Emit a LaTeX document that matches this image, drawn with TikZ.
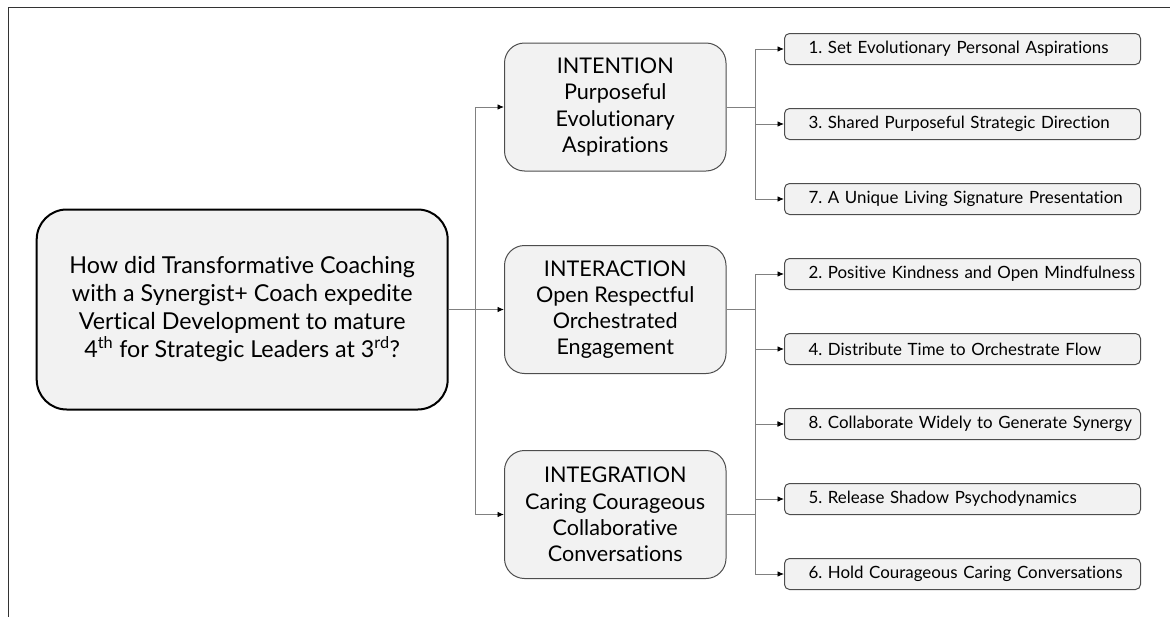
\documentclass[tikz,border=0pt]{standalone}
\usepackage{fontspec}
\setmainfont{Lato}[Ligatures=NoCommon]
\usetikzlibrary{arrows.meta}
\definecolor{boxfill}{HTML}{F2F2F2}
\definecolor{bordergray}{HTML}{4D4D4D}
\definecolor{linegray}{HTML}{808080}
\definecolor{framegray}{HTML}{333333}
\begin{document}
\frenchspacing
\begin{tikzpicture}[x=1pt,y=-1pt,
 mainbox/.style={draw=black, line width=2pt, fill=boxfill, rounded corners=30pt, minimum width=411pt, minimum height=200pt, align=center, font=\fontsize{23.3}{28}\selectfont},
 midbox/.style={draw=bordergray, line width=1pt, fill=boxfill, rounded corners=20pt, minimum width=221.5pt, minimum height=128pt, align=center, font=\fontsize{21.6}{26.2}\selectfont, inner sep=0pt},
 itembox/.style={draw=bordergray, line width=1pt, fill=boxfill, rounded corners=5pt, text width=356pt, minimum height=31pt, align=left, inner xsep=0pt, inner ysep=0pt, font=\fontsize{16.9}{20}\selectfont},
 conn/.style={draw=linegray, line width=0.9pt, -{Latex[length=6.5pt,width=5.5pt,color=black]}}]
\useasboundingbox (0,0) rectangle (1170,616);
\clip (0,0) rectangle (1170,616);
\draw[framegray, line width=1.3pt] (8.4,7.5) rectangle (1200,640);

\node[mainbox] (main) at (242.2,309.5) {How did Transformative Coaching\\with a Synergist+ Coach expedite\\Vertical Development to mature\\4\textsuperscript{th} for Strategic Leaders at 3\textsuperscript{rd}?};

\node[midbox] (m1) at (615.25,107) {INTENTION\\Purposeful\\Evolutionary\\Aspirations};
\node[midbox] (m2) at (615.25,309.5) {INTERACTION\\Open Respectful\\Orchestrated\\Engagement};
\node[midbox] (m3) at (615.25,514.5) {INTEGRATION\\Caring Courageous\\Collaborative\\Conversations};

\node[itembox] (i1) at (962.5,49) {\hspace*{24pt}1. Set Evolutionary Personal Aspirations};
\node[itembox] (i3) at (962.5,124) {\hspace*{24pt}3. Shared Purposeful Strategic Direction};
\node[itembox] (i7) at (962.5,199) {\hspace*{24pt}7. A Unique Living Signature Presentation};
\node[itembox] (i2) at (962.5,274) {\hspace*{24pt}2. Positive Kindness and Open Mindfulness};
\node[itembox] (i4) at (962.5,349) {\hspace*{24pt}4. Distribute Time to Orchestrate Flow};
\node[itembox] (i8) at (962.5,424) {\hspace*{24pt}8. Collaborate Widely to Generate Synergy};
\node[itembox] (i5) at (962.5,499) {\hspace*{24pt}5. Release Shadow Psychodynamics};
\node[itembox] (i6) at (962.5,574) {\hspace*{24pt}6. Hold Courageous Caring Conversations};

\draw[conn] (main.east) -- (m2.west);
\draw[conn] (main.east) -- ([xshift=27pt]main.east) |- (m1.west);
\draw[conn] (main.east) -- ([xshift=27pt]main.east) |- (m3.west);

\foreach \i in {i1,i3,i7} \draw[conn] (m1.east) -- ([xshift=29pt]m1.east) |- (\i.west);
\foreach \i in {i2,i4,i8} \draw[conn] (m2.east) -- ([xshift=29pt]m2.east) |- (\i.west);
\foreach \i in {i8,i5,i6} \draw[conn] (m3.east) -- ([xshift=29pt]m3.east) |- (\i.west);
\end{tikzpicture}
\end{document}
